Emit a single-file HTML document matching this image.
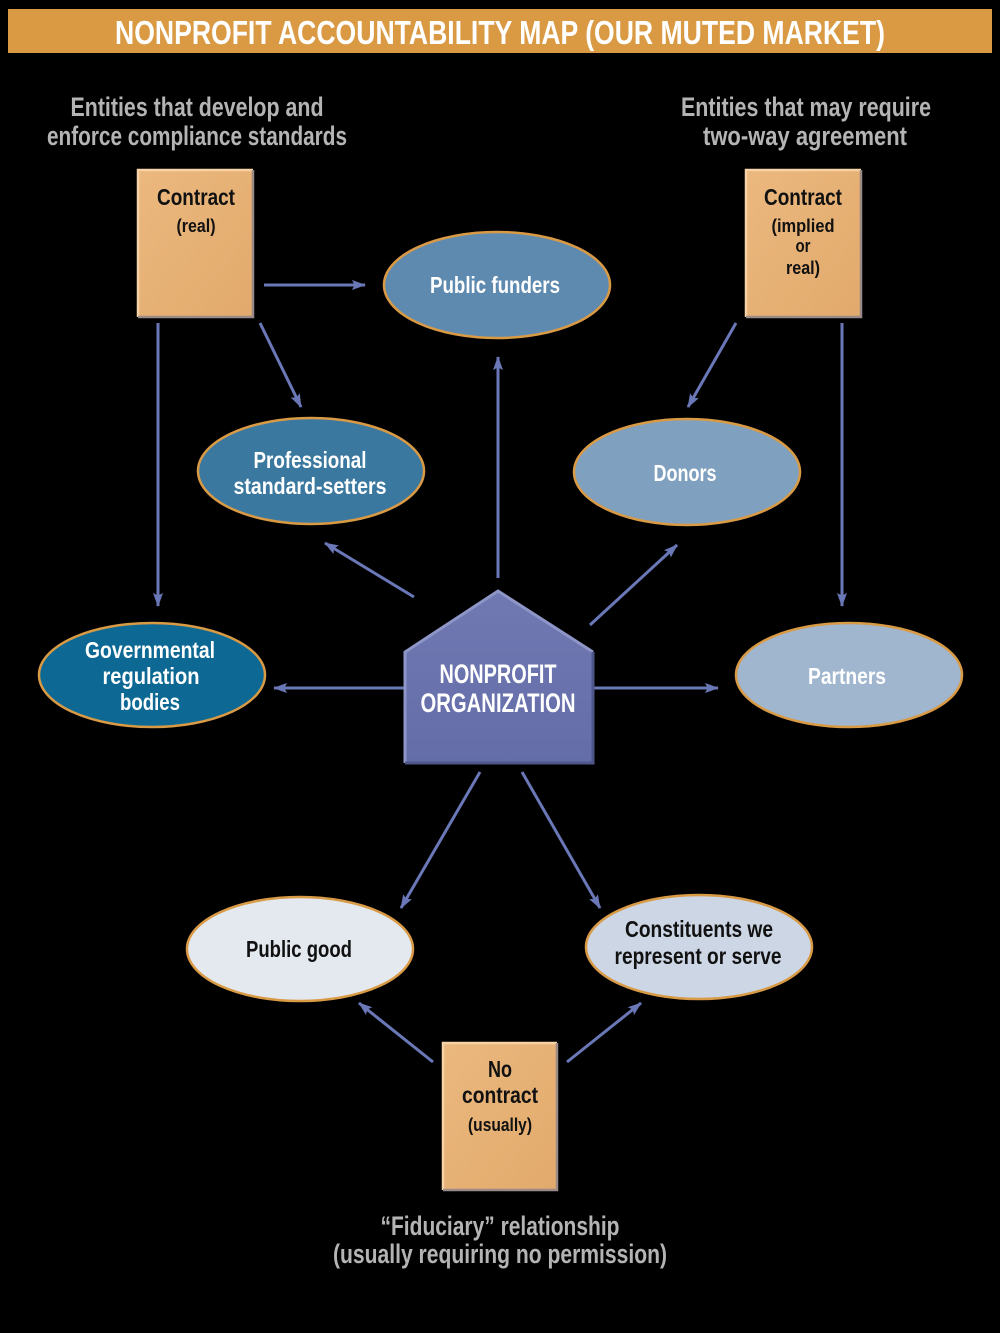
<!DOCTYPE html>
<html>
<head>
<meta charset="utf-8">
<style>
html,body{margin:0;padding:0;background:#000;}
svg{display:block;}
text{font-family:"Liberation Sans",sans-serif;font-weight:bold;}
</style>
</head>
<body>
<svg width="1000" height="1333" viewBox="0 0 1000 1333" xmlns="http://www.w3.org/2000/svg">
<defs>
<marker id="ah" viewBox="0 0 14 10" refX="13" refY="5" markerWidth="14" markerHeight="10" markerUnits="userSpaceOnUse" orient="auto">
<path d="M0,0 L14,5 L0,10 L2.5,5 Z" fill="#6a78b8"/>
</marker>
<linearGradient id="box" x1="0" y1="0" x2="1" y2="1">
<stop offset="0" stop-color="#ebb87e"/>
<stop offset="1" stop-color="#e2aa6c"/>
</linearGradient>
<linearGradient id="house" x1="0" y1="0" x2="0" y2="1">
<stop offset="0" stop-color="#7079b2"/>
<stop offset="1" stop-color="#646da8"/>
</linearGradient>
</defs>
<rect x="0" y="0" width="1000" height="1333" fill="#000"/>

<!-- Title bar -->
<rect x="8" y="9" width="984" height="44" fill="#da9a44"/>
<text x="500" y="44" font-size="33" fill="#fff" text-anchor="middle" textLength="770" lengthAdjust="spacingAndGlyphs">NONPROFIT ACCOUNTABILITY MAP (OUR MUTED MARKET)</text>

<!-- Headers -->
<g fill="#b4b4b4" font-size="27" text-anchor="middle">
<text x="197" y="116" textLength="253" lengthAdjust="spacingAndGlyphs">Entities that develop and</text>
<text x="197" y="145" textLength="300" lengthAdjust="spacingAndGlyphs">enforce compliance standards</text>
<text x="806" y="116" textLength="250" lengthAdjust="spacingAndGlyphs">Entities that may require</text>
<text x="805" y="145" textLength="204" lengthAdjust="spacingAndGlyphs">two-way agreement</text>
<text x="500" y="1235" textLength="239" lengthAdjust="spacingAndGlyphs">“Fiduciary” relationship</text>
<text x="500" y="1263" textLength="334" lengthAdjust="spacingAndGlyphs">(usually requiring no permission)</text>
</g>

<!-- Connectors -->
<g stroke="#6a78b8" stroke-width="3" fill="none" marker-end="url(#ah)">
<line x1="264" y1="285" x2="365" y2="285"/>
<line x1="260" y1="323" x2="301" y2="407"/>
<line x1="158" y1="323" x2="158" y2="606"/>
<line x1="498" y1="578" x2="498" y2="357"/>
<line x1="736" y1="323" x2="688" y2="407"/>
<line x1="842" y1="323" x2="842" y2="606"/>
<line x1="414" y1="597" x2="325" y2="543"/>
<line x1="590" y1="625" x2="677" y2="545"/>
<line x1="405" y1="688" x2="274" y2="688"/>
<line x1="593" y1="688" x2="718" y2="688"/>
<line x1="480" y1="772" x2="401" y2="908"/>
<line x1="522" y1="772" x2="600" y2="908"/>
<line x1="433" y1="1062" x2="359" y2="1003"/>
<line x1="567" y1="1062" x2="641" y2="1003"/>
</g>

<!-- Boxes -->
<g>
<rect x="138" y="170" width="115" height="147" fill="url(#box)"/>
<path d="M138,317 L138,170 L253,170" stroke="#f6d2a6" stroke-width="2.5" fill="none"/>
<path d="M138,317 L253,317 L253,170" stroke="#9a8a88" stroke-width="2.5" fill="none"/>

<rect x="746" y="170" width="115" height="147" fill="url(#box)"/>
<path d="M746,317 L746,170 L861,170" stroke="#f6d2a6" stroke-width="2.5" fill="none"/>
<path d="M746,317 L861,317 L861,170" stroke="#9a8a88" stroke-width="2.5" fill="none"/>

<rect x="443" y="1043" width="114" height="147" fill="url(#box)"/>
<path d="M443,1190 L443,1043 L557,1043" stroke="#f6d2a6" stroke-width="2.5" fill="none"/>
<path d="M443,1190 L557,1190 L557,1043" stroke="#9a8a88" stroke-width="2.5" fill="none"/>
</g>
<g fill="#111" text-anchor="middle">
<text x="196" y="205" font-size="23" textLength="78" lengthAdjust="spacingAndGlyphs">Contract</text>
<text x="196" y="232" font-size="18" textLength="39" lengthAdjust="spacingAndGlyphs">(real)</text>
<text x="803" y="205" font-size="23" textLength="78" lengthAdjust="spacingAndGlyphs">Contract</text>
<text x="803" y="232" font-size="18" textLength="63" lengthAdjust="spacingAndGlyphs">(implied</text>
<text x="803" y="252" font-size="18" textLength="15" lengthAdjust="spacingAndGlyphs">or</text>
<text x="803" y="274" font-size="18" textLength="34" lengthAdjust="spacingAndGlyphs">real)</text>
<text x="500" y="1077" font-size="23" textLength="24" lengthAdjust="spacingAndGlyphs">No</text>
<text x="500" y="1103" font-size="23" textLength="76" lengthAdjust="spacingAndGlyphs">contract</text>
<text x="500" y="1131" font-size="18" textLength="64" lengthAdjust="spacingAndGlyphs">(usually)</text>
</g>

<!-- Ellipses -->
<g stroke="#d99a45" stroke-width="2.5">
<ellipse cx="497" cy="285" rx="113" ry="53" fill="#5f8ab0"/>
<ellipse cx="311" cy="471" rx="113" ry="53" fill="#3b78a0"/>
<ellipse cx="687" cy="472" rx="113" ry="53" fill="#7fa0bf"/>
<ellipse cx="152" cy="675" rx="113" ry="52" fill="#0d6893"/>
<ellipse cx="849" cy="675" rx="113" ry="52" fill="#a0b6cf"/>
<ellipse cx="300" cy="949" rx="113" ry="52" fill="#e4e8ef"/>
<ellipse cx="699" cy="947" rx="113" ry="52" fill="#ccd6e4"/>
</g>

<g fill="#fff" text-anchor="middle" font-size="23">
<text x="495" y="293" textLength="130" lengthAdjust="spacingAndGlyphs">Public funders</text>
<text x="310" y="468" textLength="113" lengthAdjust="spacingAndGlyphs">Professional</text>
<text x="310" y="494" textLength="153" lengthAdjust="spacingAndGlyphs">standard-setters</text>
<text x="685" y="481" textLength="63" lengthAdjust="spacingAndGlyphs">Donors</text>
<text x="150" y="658" textLength="130" lengthAdjust="spacingAndGlyphs">Governmental</text>
<text x="151" y="684" textLength="97" lengthAdjust="spacingAndGlyphs">regulation</text>
<text x="150" y="710" textLength="60" lengthAdjust="spacingAndGlyphs">bodies</text>
<text x="847" y="684" textLength="78" lengthAdjust="spacingAndGlyphs">Partners</text>
</g>
<g fill="#111" text-anchor="middle" font-size="23">
<text x="299" y="957" textLength="106" lengthAdjust="spacingAndGlyphs">Public good</text>
<text x="699" y="937" textLength="148" lengthAdjust="spacingAndGlyphs">Constituents we</text>
<text x="698" y="964" textLength="167" lengthAdjust="spacingAndGlyphs">represent or serve</text>
</g>

<!-- House -->
<polygon points="405,652 498,591 593,652 593,763 405,763" fill="url(#house)"/>
<polyline points="405,763 405,652 498,591 593,652" stroke="#8e96c8" stroke-width="3" fill="none"/>
<polyline points="593,652 593,763 405,763" stroke="#4f578a" stroke-width="3" fill="none"/>
<g fill="#fff" text-anchor="middle" font-size="27">
<text x="498" y="683" textLength="117" lengthAdjust="spacingAndGlyphs">NONPROFIT</text>
<text x="498" y="712" textLength="155" lengthAdjust="spacingAndGlyphs">ORGANIZATION</text>
</g>
</svg>
</body>
</html>
